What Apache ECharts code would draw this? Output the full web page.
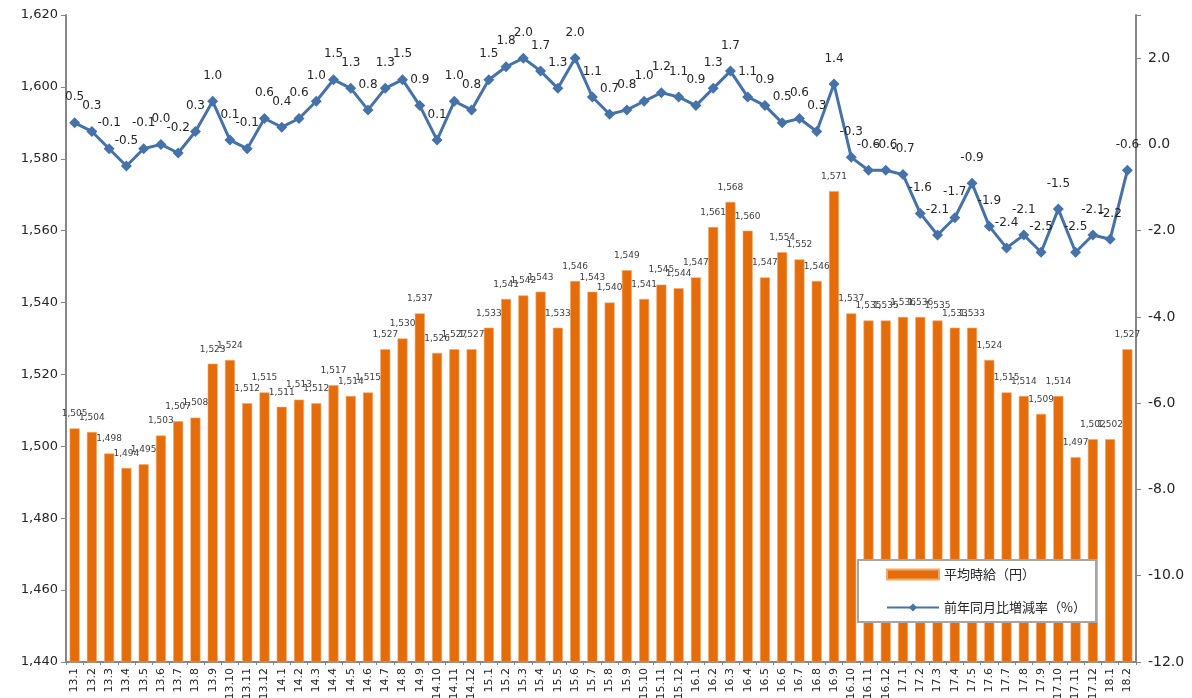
<!DOCTYPE html>
<html>
<head>
<meta charset="utf-8">
<script src="https://cdn.jsdelivr.net/npm/echarts@6/dist/echarts.min.js"></script>
<style>
  html, body { margin: 0; padding: 0; background: #fff; }
  #chart { width: 1192px; height: 698px; }
</style>
</head>
<body>
<div id="chart"></div>
<script>
const months = [
  '13.1', '13.2', '13.3', '13.4', '13.5', '13.6', '13.7', '13.8', '13.9', '13.10', '13.11', '13.12',
  '14.1', '14.2', '14.3', '14.4', '14.5', '14.6', '14.7', '14.8', '14.9', '14.10', '14.11', '14.12',
  '15.1', '15.2', '15.3', '15.4', '15.5', '15.6', '15.7', '15.8', '15.9', '15.10', '15.11', '15.12',
  '16.1', '16.2', '16.3', '16.4', '16.5', '16.6', '16.7', '16.8', '16.9', '16.10', '16.11', '16.12',
  '17.1', '17.2', '17.3', '17.4', '17.5', '17.6', '17.7', '17.8', '17.9', '17.10', '17.11', '17.12',
  '18.1', '18.2'
]

// 平均時給（円）
const hourlyWage = [
  1505, 1504, 1498, 1494, 1495, 1503, 1507, 1508, 1523, 1524, 1512, 1515,
  1511, 1513, 1512, 1517, 1514, 1515, 1527, 1530, 1537, 1526, 1527, 1527,
  1533, 1541, 1542, 1543, 1533, 1546, 1543, 1540, 1549, 1541, 1545, 1544,
  1547, 1561, 1568, 1560, 1547, 1554, 1552, 1546, 1571, 1537, 1535, 1535,
  1536, 1536, 1535, 1533, 1533, 1524, 1515, 1514, 1509, 1514, 1497, 1502,
  1502, 1527
]

// 前年同月比増減率（%）
const yoyRate = [
  0.5, 0.3, -0.1, -0.5, -0.1, 0.0, -0.2, 0.3, 1.0, 0.1, -0.1, 0.6,
  0.4, 0.6, 1.0, 1.5, 1.3, 0.8, 1.3, 1.5, 0.9, 0.1, 1.0, 0.8,
  1.5, 1.8, 2.0, 1.7, 1.3, 2.0, 1.1, 0.7, 0.8, 1.0, 1.2, 1.1,
  0.9, 1.3, 1.7, 1.1, 0.9, 0.5, 0.6, 0.3, 1.4, -0.3, -0.6, -0.6,
  -0.7, -1.6, -2.1, -1.7, -0.9, -1.9, -2.4, -2.1, -2.5, -1.5, -2.5, -2.1,
  -2.2, -0.6
]

const FONT = '"DejaVu Sans", Verdana, sans-serif'
const AXIS_GREY = '#868686'
const TEXT = '#262626'

const chart = echarts.init(document.getElementById('chart'))

chart.setOption({
  animation: false,
  textStyle: { fontFamily: FONT },
  grid: { left: 66, right: 56, top: 15, bottom: 36, outerBoundsMode: 'none' },
  legend: {
    orient: 'vertical',
    left: 858,
    top: 560,
    width: 262,
    padding: [8, 10, 8, 28],
    itemWidth: 52,
    itemHeight: 10,
    itemGap: 20,
    backgroundColor: '#fff',
    borderColor: '#a6a6a6',
    borderWidth: 2,
    textStyle: { fontFamily: '"Noto Sans CJK JP", sans-serif', fontSize: 13, color: TEXT },
    data: [
      { name: '平均時給（円）', icon: 'rect' },
      { name: '前年同月比増減率（%）' }
    ]
  },
  xAxis: {
    type: 'category',
    data: months,
    axisLine: { onZero: false, lineStyle: { color: AXIS_GREY, width: 2 } },
    axisTick: { show: true, length: 3, lineStyle: { color: AXIS_GREY } },
    axisLabel: { interval: 0, rotate: 90, fontSize: 11, color: TEXT, margin: 6 }
  },
  yAxis: [
    {
      type: 'value',
      min: 1440,
      max: 1620,
      interval: 20,
      splitLine: { show: false },
      axisLine: { show: true, lineStyle: { color: AXIS_GREY, width: 2 } },
      axisTick: { show: true, length: 5, lineStyle: { color: AXIS_GREY } },
      axisLabel: {
        fontSize: 13,
        color: TEXT,
        margin: 8,
        formatter: (v) => v.toLocaleString('en-US')
      }
    },
    {
      type: 'value',
      min: -12,
      max: 3,
      interval: 2,
      splitLine: { show: false },
      axisLine: { show: true, lineStyle: { color: AXIS_GREY, width: 2 } },
      axisTick: { show: true, length: 5, lineStyle: { color: AXIS_GREY } },
      axisLabel: {
        fontSize: 14,
        color: TEXT,
        margin: 12,
        formatter: (v) => (v > 2 ? '' : v.toFixed(1))
      }
    }
  ],
  series: [
    {
      name: '平均時給（円）',
      type: 'bar',
      data: hourlyWage,
      barWidth: 10,
      itemStyle: { color: '#E46C0A', borderColor: '#F3A866', borderWidth: 0.6 },
      label: {
        show: true,
        position: 'top',
        distance: 10,
        fontSize: 9,
        color: '#404040',
        formatter: (p) => p.value.toLocaleString('en-US')
      }
    },
    {
      name: '前年同月比増減率（%）',
      type: 'line',
      yAxisIndex: 1,
      data: yoyRate,
      symbol: 'diamond',
      symbolSize: 11,
      lineStyle: { color: '#4672AA', width: 3 },
      itemStyle: { color: '#4672AA' },
      label: {
        show: true,
        position: 'top',
        distance: 14,
        fontSize: 12,
        color: TEXT,
        formatter: (p) => p.value.toFixed(1)
      }
    }
  ]
})

window.addEventListener('resize', () => chart.resize())
</script>
</body>
</html>
